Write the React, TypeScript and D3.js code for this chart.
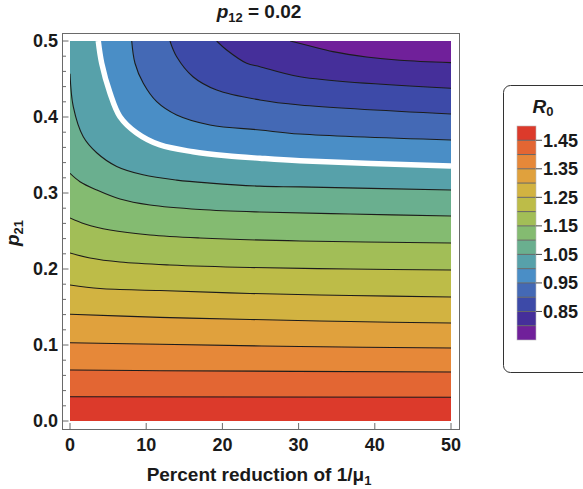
import React from 'react';
import * as d3 from 'd3';

// ---- data ----
const xDomain = [0, 50];
const pDomain = [0, 0.5];
const xTicks = [0, 10, 20, 30, 40, 50];
const yTicks = [0, 0.1, 0.2, 0.3, 0.4, 0.5];
const yMinorTicks = [0.02, 0.04, 0.06, 0.08, 0.12, 0.14, 0.16, 0.18, 0.22, 0.24, 0.26, 0.28, 0.32, 0.34, 0.36, 0.38, 0.42, 0.44, 0.46, 0.48];

const levels = [0.8, 0.85, 0.9, 0.95, 1.0, 1.05, 1.1, 1.15, 1.2, 1.25, 1.3, 1.35, 1.4, 1.45];
const legendLabels = [0.85, 0.95, 1.05, 1.15, 1.25, 1.35, 1.45];
const legendRange = [0.75, 1.5];
const bandColors = ["#70209a", "#452f9a", "#3d4aa8", "#4469b5", "#4a8ec6", "#57a1aa", "#6aaf8f", "#84bb71", "#a2be57", "#bdbc48", "#d2b341", "#e0a13d", "#e68839", "#e36633", "#dc3a2b"];

// contour lines: [percent reduction, p21]
const c080 = [[28.9, 0.5], [31.5, 0.4934], [34.5, 0.486], [38.9, 0.479], [43.3, 0.4746], [50, 0.4715]];
const c085 = [[19.25, 0.5], [20.56, 0.4882], [23.19, 0.4707], [24.93, 0.4662], [30.18, 0.453], [50, 0.4378]];
const c090 = [[13.12, 0.5], [14.0, 0.4793], [16.14, 0.453], [19.25, 0.4355], [24.93, 0.4224], [30.18, 0.4158], [50, 0.404]];
const c095 = [[8.1, 0.5], [8.53, 0.4707], [9.62, 0.4443], [11.38, 0.4201], [14.0, 0.4026], [18.37, 0.3895], [24.93, 0.3829], [30.18, 0.3776], [50, 0.3697]];
const c100 = [[3.71, 0.5], [4.16, 0.4707], [5.25, 0.4316], [6.56, 0.4004], [8.75, 0.379], [11.81, 0.3632], [16.14, 0.3543], [20.56, 0.349], [24.93, 0.3457], [30.18, 0.3425], [50, 0.3355]];
const c105 = [[0, 0.457], [0.43, 0.4136], [1.74, 0.374], [3.5, 0.353], [6.13, 0.335], [9.58, 0.324], [14.0, 0.317], [18.4, 0.313], [24.9, 0.309], [30.2, 0.308], [50, 0.304]];
const c110 = [[0, 0.3259], [1.31, 0.3149], [3.5, 0.304], [6.56, 0.2921], [10.5, 0.2842], [17.06, 0.2783], [24.93, 0.275], [36.75, 0.2724], [50, 0.2697]];
const c115 = [[0, 0.2671], [1.97, 0.2592], [5.25, 0.2513], [10.5, 0.2447], [17.06, 0.2408], [30.18, 0.2368], [50, 0.2342]];
const c120 = [[0, 0.2211], [2.62, 0.2145], [6.56, 0.2092], [13.12, 0.2053], [23.62, 0.202], [36.75, 0.2], [50, 0.1987]];
const c125 = [[0, 0.1789], [3.94, 0.1743], [11.81, 0.1717], [23.62, 0.1678], [36.75, 0.1651], [50, 0.1632]];
const c130 = [[0, 0.1404], [11.81, 0.1364], [23.62, 0.1336], [36.75, 0.1309], [50, 0.1289]];
const c135 = [[0, 0.103], [11.81, 0.1009], [30.18, 0.098], [50, 0.0961]];
const c140 = [[0, 0.0671], [11.81, 0.0662], [50, 0.0645]];
const c145 = [[0, 0.032], [50, 0.0312]];
const contourLines = [c080, c085, c090, c095, c100, c105, c110, c115, c120, c125, c130, c135, c140, c145];

const FONT = "'Liberation Sans', Arial, Helvetica, sans-serif";

export default function App() {
  const W = 583, H = 489;
  const xs = d3.scaleLinear().domain(xDomain).range([70, 451]);
  const ys = d3.scaleLinear().domain(pDomain).range([421, 41]);
  const pad = 8;
  const fx0 = xs(xDomain[0]) - pad, fx1 = xs(xDomain[1]) + pad;
  const fy0 = ys(pDomain[1]) - pad, fy1 = ys(pDomain[0]) + pad;

  const line = d3.line<number[]>()
    .x(d => xs(d[0]))
    .y(d => ys(d[1]))
    .curve(d3.curveCatmullRom.alpha(0.5));

  const fillPath = (pts: number[][]) => {
    const startCorner = pts[0][0] > xDomain[0] ? pDomain[1] : pts[0][1];
    const body = (line(pts) || '').replace(/^M/, 'L');
    return `M${xs(xDomain[0])},${ys(pDomain[0])}L${xs(xDomain[0])},${ys(startCorner)}${body}L${xs(xDomain[1])},${ys(pDomain[0])}Z`;
  };

  const ls = d3.scaleLinear().domain(legendRange).range([340, 126]);
  const bandEdges = d3.range(15).map(i => legendRange[0] + i * 0.05);

  return (
    <svg width={W} height={H} style={{ position: 'absolute', left: 0, top: 0, background: '#fff' }} fontFamily={FONT}>
      <defs>
        <clipPath id="plotclip">
          <rect x={xs(0)} y={ys(0.5)} width={xs(50) - xs(0)} height={ys(0) - ys(0.5)} />
        </clipPath>
      </defs>
      <rect x={0} y={0} width={W} height={H} fill="#fff" />
      {/* filled bands */}
      <g clipPath="url(#plotclip)">
        <rect x={xs(0)} y={ys(0.5)} width={xs(50) - xs(0)} height={ys(0) - ys(0.5)} fill={bandColors[0]} />
        {contourLines.map((pts, i) => (
          <path key={'f' + i} d={fillPath(pts)} fill={bandColors[i + 1]} stroke={bandColors[i + 1]} strokeWidth={0.5} />
        ))}
        {contourLines.map((pts, i) => (
          levels[i] === 1.0 ? (
            <path key={'l' + i} d={line(pts) || ''} fill="none" stroke="#fff" strokeWidth={5.5} />
          ) : (
            <path key={'l' + i} d={line(pts) || ''} fill="none" stroke="#1c1c1c" strokeWidth={1.1} />
          )
        ))}
      </g>
      {/* frame */}
      <rect x={fx0 + 0.5} y={fy0 + 0.5} width={fx1 - fx0} height={fy1 - fy0} fill="none" stroke="#6a6a6a" strokeWidth={1} />
      {/* y ticks */}
      {yTicks.map(t => (
        <g key={'yt' + t}>
          <line x1={fx0 + 0.5} x2={fx0 + 6.5} y1={ys(t)} y2={ys(t)} stroke="#6a6a6a" />
          <text x={58} y={ys(t)} dy="0.36em" textAnchor="end" fontWeight="bold" fontSize={18} fill="#1a1a1a">{t.toFixed(1)}</text>
        </g>
      ))}
      {yMinorTicks.map(t => (
        <line key={'ym' + t} x1={fx0 + 0.5} x2={fx0 + 4} y1={ys(t)} y2={ys(t)} stroke="#6a6a6a" />
      ))}
      {/* x ticks */}
      {xTicks.map(t => (
        <g key={'xt' + t}>
          <line x1={xs(t)} x2={xs(t)} y1={fy1 + 0.5} y2={fy1 - 6} stroke="#6a6a6a" />
          <text x={xs(t)} y={451} textAnchor="middle" fontWeight="bold" fontSize={18} fill="#1a1a1a">{t}</text>
        </g>
      ))}
      {/* titles */}
      <text x={259} y={18} textAnchor="middle" fontWeight="bold" fontSize={19} fill="#1a1a1a">
        <tspan fontStyle="italic">p</tspan>
        <tspan fontSize={13} dy={4}>12</tspan>
        <tspan dy={-4}> = 0.02</tspan>
      </text>
      <text x={259} y={481} textAnchor="middle" fontWeight="bold" fontSize={19} fill="#1a1a1a">
        Percent reduction of 1/μ
        <tspan fontSize={13} dy={4}>1</tspan>
      </text>
      <text transform={`translate(19,233) rotate(-90)`} textAnchor="middle" fontWeight="bold" fontSize={19} fill="#1a1a1a">
        <tspan fontStyle="italic">p</tspan>
        <tspan fontSize={13} dy={4}>21</tspan>
      </text>
      {/* legend */}
      <rect x={503.5} y={85.5} width={110} height={287} rx={7} ry={7} fill="#fff" stroke="#333" strokeWidth={1} />
      <text x={543} y={113} textAnchor="middle" fontWeight="bold" fontStyle="italic" fontSize={19} fill="#1a1a1a">
        R<tspan fontSize={13} dy={3} fontStyle="normal">0</tspan>
      </text>
      {bandEdges.map((b, i) => (
        <rect key={'lb' + i} x={517} y={ls(b + 0.05)} width={19} height={ls(b) - ls(b + 0.05)} fill={bandColors[i]} />
      ))}
      {levels.map(l => (
        <line key={'ls' + l} x1={517} x2={536} y1={ls(l)} y2={ls(l)} stroke="#666" strokeWidth={1} />
      ))}
      <rect x={517} y={ls(1.5)} width={19} height={ls(0.75) - ls(1.5)} fill="none" stroke="#bbb" strokeWidth={0.6} />
      {legendLabels.map(l => (
        <g key={'ll' + l}>
          <line x1={536} x2={542} y1={ls(l)} y2={ls(l)} stroke="#444" />
          <text x={543} y={ls(l)} dy="0.36em" fontWeight="bold" fontSize={18} fill="#1a1a1a">{l.toFixed(2)}</text>
        </g>
      ))}
    </svg>
  );
}
